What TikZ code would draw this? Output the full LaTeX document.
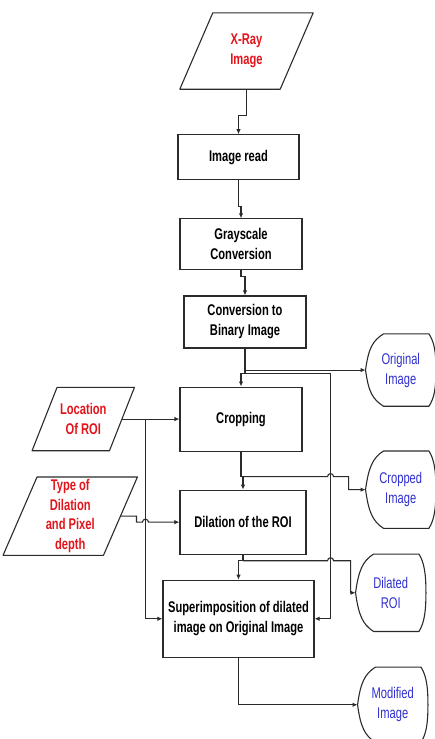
\documentclass[tikz,border=0pt]{standalone}
\usepackage{fontspec}
\setmainfont[FakeStretch=0.72]{Liberation Sans}
\usepackage{xcolor}
\definecolor{cLine}{HTML}{2B2B2B}
\definecolor{cIn}{HTML}{E3141B}
\definecolor{cOut}{HTML}{2F2FD0}
\usepackage{tikz}
\usetikzlibrary{positioning,arrows.meta,calc}
\tikzset{
  node-box/.style={draw=cLine,line width=1.1pt,align=center,
    font=\fontsize{15.5}{20}\selectfont\bfseries,inner sep=2pt},
  node-io/.style={inner sep=0pt,align=center,text=cIn,
    font=\fontsize{15.5}{19.5}\selectfont\bfseries},
  node-out/.style={inner sep=0pt,minimum width=70pt,align=center,
    text=cOut,font=\fontsize{15.5}{20}\selectfont},
  shape-line/.style={draw=cLine,line width=1.1pt,line join=round},
  arrow/.style={-{Latex[length=5pt,width=4.5pt]},line width=1.1pt,draw=cLine},
}
% input symbol: parallelogram leaning right, #2 = slant
\newcommand{\drawinput}[2]{%
  \draw[shape-line] ([xshift=#2]#1.north west) -- (#1.north east)
    -- ([xshift=-#2]#1.south east) -- (#1.south west) -- cycle;}
% output symbol: pointed left side, bulging right side
\newcommand{\drawdisplay}[1]{%
  \draw[shape-line] (#1.west)
    .. controls +(3pt,22pt) and +(-11pt,-7pt) .. ([xshift=18pt]#1.north west)
    -- ([xshift=-7pt]#1.north east)
    .. controls +(5pt,-8pt) and +(0pt,20pt) .. (#1.east)
    .. controls +(0pt,-20pt) and +(5pt,8pt) .. ([xshift=-7pt]#1.south east)
    -- ([xshift=18pt]#1.south west)
    .. controls +(-11pt,7pt) and +(3pt,-22pt) .. (#1.west);}

\begin{document}
\begin{tikzpicture}
  \useasboundingbox (0,0) rectangle (435pt,-739pt);
  % main chain
  \node[node-io,minimum width=133pt,minimum height=76pt] (xray) at (246.5pt,-51pt) {X-Ray\\Image};
  \node[node-box,below=45pt of xray,xshift=-8pt,minimum width=121pt,
    minimum height=45pt]                          (read) {Image read};
  \node[node-box,below=38pt of read,xshift=2.5pt,minimum width=122pt,
    minimum height=51pt]                          (gray) {Grayscale\\Conversion};
  \node[node-box,below=25pt of gray,xshift=4pt,minimum width=122pt,
    minimum height=52pt]                          (bin)  {Conversion to\\Binary Image};
  \node[node-box,below=38pt of bin,xshift=-4pt,minimum width=122pt,
    minimum height=64pt]                          (crop) {Cropping};
  \node[node-box,below=38pt of crop,xshift=2pt,minimum width=126pt,
    minimum height=64pt]                          (dil)  {Dilation of the ROI};
  \node[node-box,below=25pt of dil,xshift=-4.5pt,minimum width=151pt,
    minimum height=77pt]                          (sup)  {Superimposition of dilated\\image on Original Image};
  % inputs
  \node[node-io,minimum width=102pt,minimum height=63pt,left=45pt of crop] (loc) {Location\\Of ROI};
  \node[node-io,minimum width=134pt,minimum height=78pt,left=42pt of dil,yshift=6pt] (type)
    {Type of\\Dilation\\and Pixel\\depth};
  \drawinput{xray}{33pt}
  \drawinput{loc}{25pt}
  \drawinput{type}{34pt}
  % outputs
  \node[node-out,minimum height=72pt,right=63pt of crop,yshift=49pt]   (orig)    {Original\\Image};
  \node[node-out,minimum height=77pt,right=59pt of dil,yshift=32.5pt]  (cropout) {Cropped\\Image};
  \node[node-out,minimum height=77pt,right=41pt of sup,yshift=26pt]    (dilout)  {Dilated\\ROI};
  \node[node-out,minimum height=75pt,right=43pt of sup,yshift=-86pt]   (modout)  {Modified\\Image};
  \drawdisplay{orig}
  \drawdisplay{cropout}
  \drawdisplay{dilout}
  \drawdisplay{modout}
  % helper points
  \coordinate (locout)    at ([xshift=-12.5pt]loc.east);
  \coordinate (typeout)   at ([xshift=-17pt]type.east);
  \coordinate (binsplit)  at ([yshift=-25pt]bin.south);
  \coordinate (cropsplit) at ([yshift=-25pt]crop.south);
  \coordinate (dilsplit)  at ([yshift=-6pt]dil.south);
  \coordinate (rbus)      at ([xshift=16pt]sup.east);
  \coordinate (lbus)      at ([xshift=-34pt]crop.west);
  \coordinate (typeknee)  at ([xshift=16pt]typeout);
  \coordinate (cropknee)  at ([xshift=-17pt]cropout.west);
  \coordinate (dilknee)   at ([xshift=-5pt]dilout.west);
  \coordinate (hopA)      at (rbus |- cropsplit);
  \coordinate (hopB)      at (lbus |- dil.west);
  \coordinate (hopC)      at (rbus |- dilsplit);
  % connectors
  \draw[arrow] (xray.south) -- ++(0,-26pt) -| (read.north);
  \draw[arrow] (read.south) -- ++(0,-26pt) -| (gray.north);
  \draw[arrow] (gray.south) -- ++(0,-6pt) -| (bin.north);
  \draw[arrow] (bin.south) |- (orig.west);
  \draw[arrow] (bin.south) -- (binsplit) -| (crop.north);
  \draw[arrow] (binsplit) -| (rbus) -- (sup.east);
  \draw[arrow] (locout) -- (crop.west);
  \draw[arrow] (lbus) |- (sup.west);
  \draw[arrow] (crop.south) -- (cropsplit) -| (dil.north);
  \draw[arrow] (cropsplit) -- ([xshift=-3pt]hopA)
    arc[start angle=180,end angle=0,radius=3pt]
    -- (cropknee |- cropsplit) -- (cropknee) -- (cropout.west);
  \draw[arrow] (typeout) -- (typeknee) |- ([xshift=-3pt]hopB)
    arc[start angle=180,end angle=0,radius=3pt] -- (dil.west);
  \draw[arrow] (dil.south) -- (dilsplit) -| (sup.north);
  \draw[arrow] (dilsplit) -- ([xshift=-3pt]hopC)
    arc[start angle=180,end angle=0,radius=3pt]
    -- (dilknee |- dilsplit) -- (dilknee) -- (dilout.west);
  \draw[arrow] (sup.south) |- (modout.west);
\end{tikzpicture}
\end{document}
